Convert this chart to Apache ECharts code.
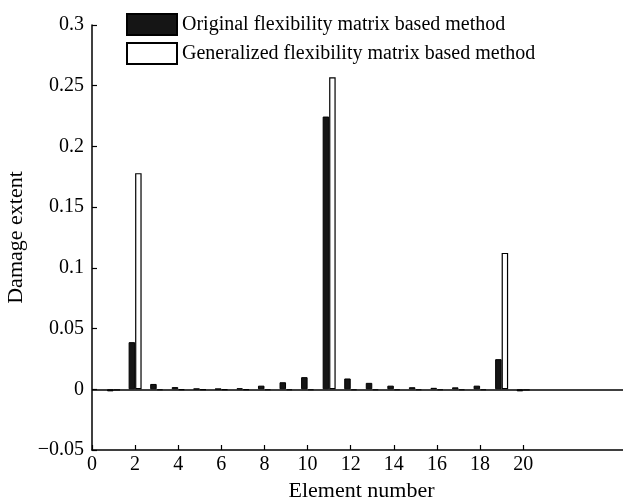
<!DOCTYPE html>
<html>
<head>
<meta charset="utf-8">
<script src="https://cdn.jsdelivr.net/npm/echarts@6/dist/echarts.min.js"></script>
<style>html,body{margin:0;padding:0;background:#fff;}#c{width:623px;height:498px;}</style>
</head>
<body>
<div id="c"></div>
<script>
const elements = [1,2,3,4,5,6,7,8,9,10,11,12,13,14,15,16,17,18,19,20];
const originalMethod = [-0.0017,0.0388,0.0044,0.0018,0.0005,0.0004,0.0008,0.0030,0.0058,0.0100,0.2246,0.0089,0.0053,0.0030,0.0017,0.0012,0.0016,0.0030,0.0248,-0.0017];
const generalizedMethod = [-0.0010,0.1780,-0.0008,-0.0006,-0.0005,-0.0005,-0.0005,-0.0008,-0.0008,-0.0008,0.2570,-0.0008,-0.0008,-0.0008,-0.0008,-0.0008,-0.0008,-0.0008,0.1123,-0.0010];
const xTicks = [0,2,4,6,8,10,12,14,16,18,20];
const seriesNames = ['Original flexibility matrix based method','Generalized flexibility matrix based method'];

const FONT = "'Liberation Serif','DejaVu Serif',serif";
const chart = echarts.init(document.getElementById('c'));
chart.setOption({
  animation: false,
  backgroundColor: '#fff',
  legend: {
    orient: 'vertical', left: 121, top: 8, icon: 'rect',
    itemWidth: 50, itemHeight: 21, itemGap: 6,
    textStyle: {fontFamily: FONT, fontSize: 20, color: '#000'},
    data: seriesNames
  },
  grid: {left: 92, right: -8, top: 25, bottom: 48, outerBoundsMode: 'none', containLabel: false},
  xAxis: {
    type: 'value', min: 0, max: 25,
    name: 'Element number', nameLocation: 'middle', nameGap: 27,
    nameTextStyle: {fontFamily: FONT, fontSize: 22, color: '#000'},
    axisLine: {onZero: false, lineStyle: {color: '#000', width: 1.5}},
    axisTick: {inside: true, length: 5, lineStyle: {color: '#000', width: 1.2}, customValues: xTicks},
    axisLabel: {fontFamily: FONT, fontSize: 20, color: '#000', margin: 5, customValues: xTicks},
    splitLine: {show: false}
  },
  yAxis: {
    type: 'value', min: -0.05, max: 0.3, interval: 0.05,
    name: 'Damage extent', nameLocation: 'middle', nameGap: 60,
    nameTextStyle: {fontFamily: FONT, fontSize: 22, color: '#000'},
    axisLine: {show: true, onZero: false, lineStyle: {color: '#000', width: 1.5}},
    axisTick: {show: true, inside: true, length: 5, lineStyle: {color: '#000', width: 1.2}},
    axisLabel: {fontFamily: FONT, fontSize: 20, color: '#000', margin: 8,
      formatter: function (v) { const r = Math.round(v*100)/100; return r < 0 ? '\u2212' + String(-r) : String(r); }},
    splitLine: {show: false}
  },
  series: [
    {
      name: seriesNames[0], type: 'bar', barWidth: 6.5, barGap: '0%',
      itemStyle: {color: '#151515', borderColor: '#000', borderWidth: 1},
      data: elements.map((e, i) => [e, originalMethod[i]]),
      markLine: {
        silent: true, symbol: ['none','none'], label: {show: false},
        lineStyle: {color: '#000', type: 'solid', width: 1.5},
        data: [{yAxis: 0}]
      }
    },
    {
      name: seriesNames[1], type: 'bar', barWidth: 6.5, barGap: '0%',
      itemStyle: {color: '#fff', borderColor: '#000', borderWidth: 1.2},
      data: elements.map((e, i) => [e, generalizedMethod[i]])
    }
  ]
});
</script>
</body>
</html>
